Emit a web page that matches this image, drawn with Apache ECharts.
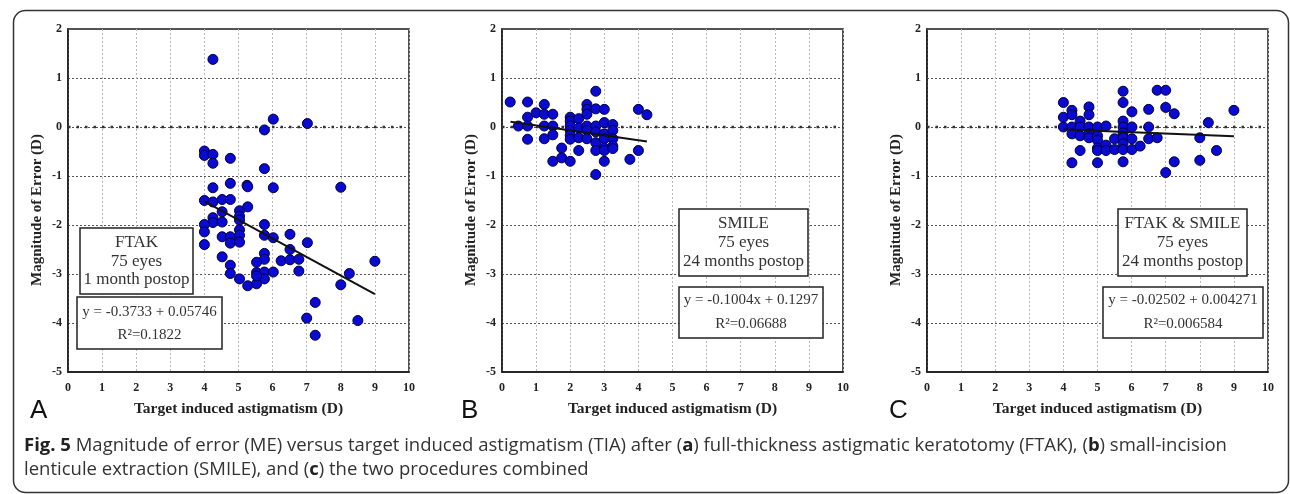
<!DOCTYPE html>
<html>
<head>
<meta charset="utf-8">
<script src="https://cdn.jsdelivr.net/npm/echarts@6/dist/echarts.min.js"></script>
<style>
    html, body { margin: 0; padding: 0; background: #fff; }
    #chart { width: 1290px; height: 494px; }
</style>
</head>
<body>
<div id="chart"></div>
<script>
// 資料 - 數值
let xTickMin = 0, xTickMax = 10;
let yTickMin = -5, yTickMax = 2;

let ftakPoints = [
    [4.25, 1.38], [6.02, 0.16], [7.02, 0.07], [5.76, -0.06],
    [4.0, -0.49], [4.0, -0.58], [4.25, -0.56], [4.25, -0.74], [4.76, -0.64], [5.76, -0.85],
    [4.25, -1.24], [4.76, -1.15], [5.25, -1.19], [5.27, -1.22], [6.02, -1.24],
    [4.0, -1.5], [4.25, -1.53], [4.52, -1.48], [4.76, -1.48], [5.27, -1.63],
    [4.52, -1.73], [5.03, -1.71], [5.03, -1.82], [5.03, -1.9], [4.25, -1.85], [4.25, -1.95],
    [4.52, -1.94], [4.0, -1.99], [4.0, -2.14], [4.0, -2.4], [4.52, -2.24], [4.76, -2.24],
    [4.76, -2.37], [5.03, -2.1], [5.03, -2.21], [5.03, -2.35], [5.76, -1.99], [5.76, -2.21],
    [6.02, -2.26], [6.51, -2.19], [7.02, -2.36], [6.51, -2.5], [4.52, -2.65], [4.76, -2.82],
    [4.76, -2.99], [5.76, -2.58], [5.76, -2.7], [5.53, -2.76], [6.25, -2.73], [6.51, -2.71],
    [6.77, -2.7], [6.77, -2.94], [5.53, -2.97], [5.76, -2.96], [5.76, -3.1], [6.02, -2.96],
    [5.03, -3.1], [5.27, -3.24], [5.53, -3.2], [5.53, -3.04],
    [8.0, -1.23], [9.0, -2.74], [8.25, -2.99], [8.0, -3.22], [7.25, -3.58],
    [7.0, -3.9], [8.5, -3.95], [7.25, -4.25]
];

let smilePoints = [
    [0.24, 0.51], [0.75, 0.51], [0.48, 0.02], [0.75, 0.2], [0.75, 0.02], [0.75, -0.25],
    [1.0, 0.29], [1.24, 0.46], [1.24, 0.26], [1.49, 0.26], [1.24, 0.02], [1.49, 0.02],
    [1.24, -0.24], [1.49, -0.16], [1.75, -0.43], [1.49, -0.7], [1.75, -0.63], [2.0, -0.7],
    [2.0, 0.2], [2.0, 0.12], [2.0, 0.02], [2.0, -0.07], [2.0, -0.17], [2.0, -0.25],
    [2.25, 0.17], [2.25, -0.02], [2.25, -0.22], [2.25, -0.48],
    [2.49, 0.46], [2.49, 0.36], [2.49, 0.26], [2.49, 0.02], [2.49, -0.07], [2.49, -0.24],
    [2.75, 0.73], [2.75, 0.37], [2.75, 0.02], [2.75, -0.1], [2.75, -0.32], [2.75, -0.48], [2.75, -0.97],
    [3.0, 0.36], [3.0, 0.09], [3.0, -0.14], [3.0, -0.24], [3.0, -0.43], [3.0, -0.48], [3.0, -0.7],
    [3.25, 0.05], [3.25, -0.07], [3.25, -0.24], [3.25, -0.39], [3.25, -0.44],
    [3.75, -0.66], [4.0, 0.36], [4.0, -0.48], [4.25, 0.25]
];

let combinedPoints = [
    [4.0, 0.5], [4.0, 0.2], [4.0, 0.0], [4.25, 0.34], [4.25, 0.25], [4.25, 0.0], [4.25, -0.14], [4.25, -0.73],
    [4.49, 0.12], [4.49, 0.0], [4.49, -0.18], [4.49, -0.48],
    [4.75, 0.41], [4.75, 0.25], [4.75, 0.0], [4.75, -0.14], [4.75, -0.22],
    [5.0, 0.0], [5.0, -0.18], [5.0, -0.27], [5.0, -0.43], [5.0, -0.48], [5.0, -0.73],
    [5.25, 0.02], [5.25, -0.37], [5.25, -0.48], [5.5, -0.24], [5.5, -0.46],
    [5.75, 0.73], [5.75, 0.5], [5.75, 0.12], [5.75, 0.0], [5.75, -0.12], [5.75, -0.22],
    [5.75, -0.34], [5.75, -0.46], [5.75, -0.71],
    [6.01, 0.31], [6.01, 0.0], [6.01, -0.24], [6.01, -0.46], [6.25, -0.39],
    [6.5, 0.36], [6.5, 0.0], [6.5, -0.24], [6.75, -0.22], [6.75, 0.75],
    [7.0, 0.75], [7.0, 0.4], [7.25, 0.27], [7.25, -0.71], [7.0, -0.93],
    [8.0, -0.22], [8.0, -0.68], [8.25, 0.09], [8.49, -0.48], [9.0, 0.34]
];

// 回歸線端點
let ftakFit = [[4, -1.52], [9, -3.41]];
let smileFit = [[0.25, 0.105], [4.25, -0.297]];
let combinedFit = [[4, -0.05], [9, -0.19]];
let zeroLine = [[0, 0], [10, 0]];

let panelLetters = ['A', 'B', 'C'];
let panelLabels = [
    ['FTAK', '75 eyes', '1 month postop'],
    ['SMILE', '75 eyes', '24 months postop'],
    ['FTAK & SMILE', '75 eyes', '24 months postop']
];
let panelEquations = [
    ['y = -0.3733 + 0.05746', 'R\u00b2=0.1822'],
    ['y = -0.1004x + 0.1297', 'R\u00b2=0.06688'],
    ['y = -0.02502 + 0.004271', 'R\u00b2=0.006584']
];

let serif = '"Liberation Serif", "Times New Roman", serif';
let chart = echarts.init(document.getElementById('chart'), null, { renderer: 'canvas' });

let gridLefts = [68, 502, 927];
let grids = [], xAxes = [], yAxes = [], series = [];

gridLefts.forEach(function(left, i) {
    grids.push({
        left: left, top: 29, width: 341, height: 343,
        show: true, borderColor: '#1a1a1a', borderWidth: 1.5, backgroundColor: '#fff'
    });
    xAxes.push({
        gridIndex: i, type: 'value', min: xTickMin, max: xTickMax, interval: 1,
        name: 'Target induced astigmatism (D)', nameLocation: 'middle', nameGap: 29,
        nameTextStyle: { fontFamily: serif, fontWeight: 'bold', fontSize: 15.5, color: '#222' },
        axisLine: { show: true, onZero: false, lineStyle: { color: '#1a1a1a', width: 1.5 } },
        axisTick: { show: false },
        axisLabel: { margin: 10, fontFamily: serif, fontWeight: 'bold', fontSize: 12, color: '#222' },
        splitLine: { show: true, lineStyle: { color: '#b8b8b8', type: [2, 2], width: 1 } }
    });
    yAxes.push({
        gridIndex: i, type: 'value', min: yTickMin, max: yTickMax, interval: 1,
        axisLine: { show: true, onZero: false, lineStyle: { color: '#1a1a1a', width: 1.5 } },
        axisTick: { show: false },
        axisLabel: { margin: 6, fontFamily: serif, fontWeight: 'bold', fontSize: 12, color: '#222' },
        splitLine: { show: true, lineStyle: { color: '#555', type: [2, 2], width: 1 } }
    });
});

let addPanel = function(i, points, fit) {
    series.push({
        type: 'line', xAxisIndex: i, yAxisIndex: i, data: zeroLine,
        symbol: 'none', silent: true, z: 1,
        lineStyle: { color: '#333', width: 2.5, type: [2.5, 6] }
    });
    series.push({
        type: 'scatter', xAxisIndex: i, yAxisIndex: i, data: points,
        symbolSize: 10, z: 3,
        itemStyle: { color: '#0a0ad2', borderColor: '#00003a', borderWidth: 1, opacity: 1 }
    });
    series.push({
        type: 'line', xAxisIndex: i, yAxisIndex: i, data: fit,
        symbol: 'none', z: 4,
        lineStyle: { color: '#111', width: 2 }
    });
};

addPanel(0, ftakPoints, ftakFit);
addPanel(1, smilePoints, smileFit);
addPanel(2, combinedPoints, combinedFit);

// 圖中的說明框
let boxes = [
    { box: [80, 228, 113, 66], lines: [243, 262, 280], eq: [77, 297, 145, 52], eqLines: [312, 335] },
    { box: [679, 209, 129, 67], lines: [224, 243, 262], eq: [679, 287, 144, 51], eqLines: [300, 324] },
    { box: [1118, 209, 129, 67], lines: [224, 243, 262], eq: [1103, 287, 160, 51], eqLines: [300, 324] }
];
let letterX = [30, 461, 889];
let yTitleX = [37, 471, 896];

let graphics = [];
graphics.push({
    type: 'rect', left: 11, top: 8, z: 0,
    shape: { width: 1275, height: 482, r: 12 },
    style: { fill: 'none', stroke: '#333', lineWidth: 1.5 }
});

boxes.forEach(function(b, i) {
    graphics.push({
        type: 'rect', x: b.box[0], y: b.box[1], z: 100,
        shape: { width: b.box[2], height: b.box[3] },
        style: { fill: '#fff', stroke: '#222', lineWidth: 1.5 }
    });
    panelLabels[i].forEach(function(t, k) {
        graphics.push({
            type: 'text', x: b.box[0] + b.box[2] / 2, y: b.lines[k], z: 101,
            style: { text: t, font: '17px ' + serif, fill: '#333', align: 'center', verticalAlign: 'middle' }
        });
    });
    graphics.push({
        type: 'rect', x: b.eq[0], y: b.eq[1], z: 100,
        shape: { width: b.eq[2], height: b.eq[3] },
        style: { fill: '#fff', stroke: '#222', lineWidth: 1.5 }
    });
    panelEquations[i].forEach(function(t, k) {
        graphics.push({
            type: 'text', x: b.eq[0] + b.eq[2] / 2, y: b.eqLines[k], z: 101,
            style: { text: t, font: '15px ' + serif, fill: '#333', align: 'center', verticalAlign: 'middle' }
        });
    });
    graphics.push({
        type: 'text', x: letterX[i], y: 411, z: 101,
        style: { text: panelLetters[i], font: '26px "Liberation Sans", Arial, sans-serif', fill: '#111', verticalAlign: 'middle' }
    });
    // y 軸標題 (旋轉)
    graphics.push({
        type: 'text', x: yTitleX[i], y: 210, rotation: Math.PI / 2, z: 101,
        style: { text: 'Magnitude of Error (D)', font: 'bold 15px ' + serif, fill: '#222', align: 'center', verticalAlign: 'middle' }
    });
});

// 圖說
let captionFont = '"Open Sans", "Noto Sans", sans-serif';
let captionRich = { b: { fontWeight: 'bold', fontFamily: captionFont, fontSize: 18.5, fill: '#222' } };
graphics.push({
    type: 'text', x: 24, y: 446, z: 101,
    style: {
        text: '{b|Fig. 5} Magnitude of error (ME) versus target induced astigmatism (TIA) after ({b|a}) full-thickness astigmatic keratotomy (FTAK), ({b|b}) small-incision',
        font: '18.5px ' + captionFont, fill: '#333', verticalAlign: 'middle', rich: captionRich
    }
});
graphics.push({
    type: 'text', x: 24, y: 470, z: 101,
    style: {
        text: 'lenticule extraction (SMILE), and ({b|c}) the two procedures combined',
        font: '18.5px ' + captionFont, fill: '#333', verticalAlign: 'middle', rich: captionRich
    }
});

chart.setOption({
    animation: false,
    backgroundColor: '#fff',
    grid: grids,
    xAxis: xAxes,
    yAxis: yAxes,
    series: series,
    graphic: graphics
});
</script>
</body>
</html>
